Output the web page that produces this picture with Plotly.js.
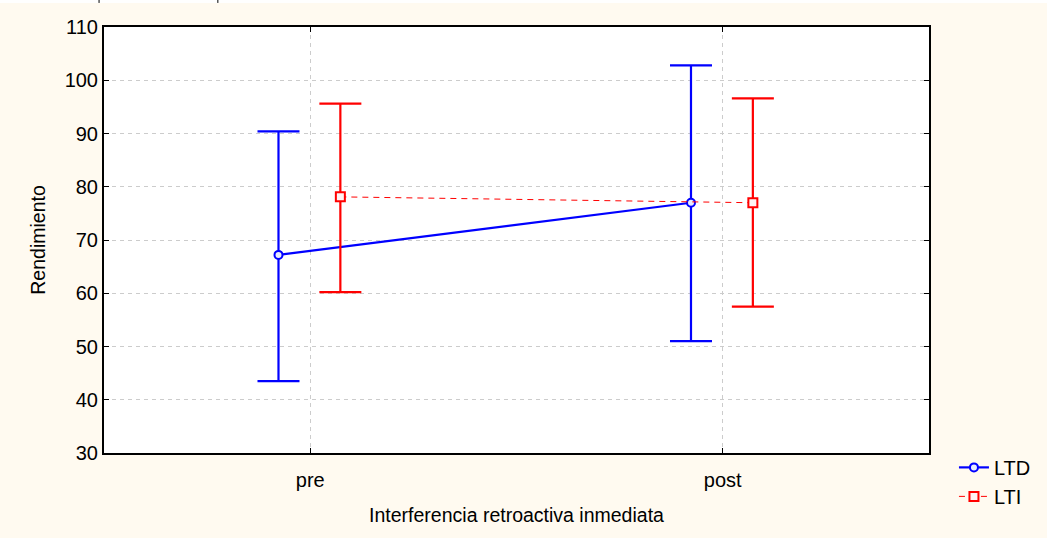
<!DOCTYPE html>
<html>
<head>
<meta charset="utf-8">
<script src="https://cdn.plot.ly/plotly-3.0.1.min.js"></script>
<style>html,body{margin:0;padding:0;background:#FFFAF0;}</style>
</head>
<body>
<div id="chart" style="width:1047px;height:538px;"></div>
<script>
const categories = ["pre", "post"];
const seriesNames = ["LTD", "LTI"];
const ltdMean = [67.2, 77.0];
const ltdUpper = [90.4, 102.8];
const ltdLower = [43.5, 51.0];
const ltiMean = [78.1, 77.0];
const ltiUpper = [95.6, 96.6];
const ltiLower = [60.2, 57.5];

const catPos = categories.map((c, i) => i);
const offsets = [-0.077, 0.073];

function mk(name, mean, up, lo, off, color, lineStyle, marker) {
  return {
    type: 'scatter',
    mode: 'lines+markers',
    name: name,
    x: catPos.map(p => p + off),
    y: mean,
    line: lineStyle,
    marker: marker,
    error_y: {
      type: 'data', symmetric: false,
      array: mean.map((m, i) => up[i] - m),
      arrayminus: mean.map((m, i) => m - lo[i]),
      color: color, thickness: 2.2, width: 21
    },
    cliponaxis: false
  };
}

const traces = [
  mk(seriesNames[0], ltdMean, ltdUpper, ltdLower, offsets[0], '#0000FF',
     {color: '#0000FF', width: 2.2},
     {symbol: 'circle', size: 8, color: '#E8ECFF', line: {color: '#0000FF', width: 2}}),
  mk(seriesNames[1], ltiMean, ltiUpper, ltiLower, offsets[1], '#FF0000',
     {color: '#FF0000', width: 1, dash: '6px,5px'},
     {symbol: 'square', size: 9, color: '#FFF4F4', line: {color: '#FF0000', width: 2}})
];

const fontFam = '"Liberation Sans", Arial, sans-serif';
const layout = {
  width: 1047, height: 538,
  margin: {l: 104, r: 117, t: 27, b: 85},
  paper_bgcolor: '#FFFAF0',
  plot_bgcolor: '#FFFFFF',
  font: {family: fontFam, size: 20, color: '#000'},
  showlegend: true,
  legend: {x: 1.029, y: 0.012, xanchor: 'left', yanchor: 'top',
           bgcolor: 'rgba(0,0,0,0)', font: {size: 20, family: fontFam},
           tracegroupgap: 0, itemwidth: 30},
  xaxis: {
    range: [-0.5, 1.5],
    tickmode: 'array', tickvals: catPos, ticktext: categories,
    showgrid: true, gridcolor: '#CCCCCC', griddash: '4px,4px', gridwidth: 1,
    zeroline: false,
    showline: true, linecolor: '#000', linewidth: 2, mirror: 'ticks',
    ticks: 'inside', ticklen: 5, tickcolor: '#000', tickwidth: 1,
    tickfont: {size: 20}, ticklabelstandoff: 8,
    title: {text: 'Interferencia retroactiva inmediata', font: {size: 19.5}, standoff: 18}
  },
  yaxis: {
    range: [30, 110],
    tickmode: 'linear', tick0: 30, dtick: 10,
    showgrid: true, gridcolor: '#CCCCCC', griddash: '4px,4px', gridwidth: 1,
    zeroline: false,
    showline: true, linecolor: '#000', linewidth: 2, mirror: 'ticks',
    ticks: 'inside', ticklen: 5, tickcolor: '#000', tickwidth: 1,
    tickfont: {size: 20},
    title: {text: 'Rendimiento', font: {size: 19.5}, standoff: 14}
  },
  shapes: [
    {type: 'rect', xref: 'paper', yref: 'paper', x0: -0.13, x1: 1.15, y0: 1.0565, y1: 1.07,
     fillcolor: '#FFFFFF', line: {width: 0}, layer: 'above'},
    {type: 'line', xref: 'paper', yref: 'paper', x0: -0.006, x1: -0.006, y0: 1.0565, y1: 1.07,
     line: {color: '#000', width: 1}},
    {type: 'line', xref: 'paper', yref: 'paper', x0: 0.138, x1: 0.138, y0: 1.0565, y1: 1.07,
     line: {color: '#000', width: 1}}
  ]
};

Plotly.newPlot('chart', traces, layout, {displayModeBar: false, staticPlot: true});
</script>
</body>
</html>
